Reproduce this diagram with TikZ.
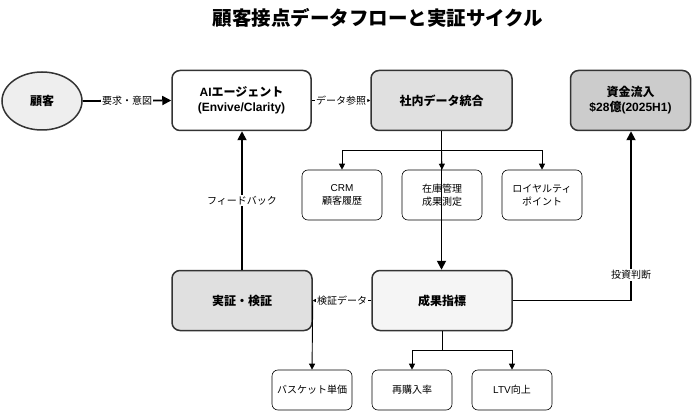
\documentclass[tikz,border=0pt]{standalone}
\usepackage{fontspec}
\setmainfont{Noto Sans CJK JP}
\newfontfamily\lat{Liberation Sans}
\usetikzlibrary{arrows.meta,shapes.geometric}
\definecolor{bordc}{HTML}{333333}
\definecolor{fillA}{HTML}{EEEEEE}
\definecolor{fillB}{HTML}{E0E0E0}
\definecolor{fillC}{HTML}{CCCCCC}
\definecolor{fillD}{HTML}{F5F5F5}
\begin{document}
\begin{tikzpicture}[x=1pt,y=-1pt,
  mainbox/.style={draw=bordc,line width=1.5pt,rounded corners=8pt,minimum width=139pt,minimum height=60pt,align=center,font=\fontsize{12}{15}\selectfont\bfseries,inner sep=2pt},
  smallbox/.style={draw=black,line width=0.6pt,rounded corners=6pt,minimum width=80pt,minimum height=50pt,align=center,font=\fontsize{10}{12.5}\selectfont,inner sep=1pt},
  leafbox/.style={smallbox,minimum height=40pt},
  bigarrow/.style={draw=black,line width=1.8pt,-{Triangle[length=9pt,width=9pt]}},
  thinarrow/.style={draw=black,line width=0.9pt,-{Triangle[length=6pt,width=6pt]}},
  dataarrow/.style={draw=black,line width=0.9pt,-{Triangle[length=3pt,width=3pt]}},
  elab/.style={fill=white,inner sep=1pt,font=\fontsize{10}{12}\selectfont}
]
\useasboundingbox[fill=white] (0,0) rectangle (692,411);

\node[font=\fontsize{19.5}{23}\selectfont\bfseries] (title) at (378,18) {顧客接点データフローと実証サイクル};

\node[ellipse,draw=bordc,line width=1.5pt,fill=fillA,minimum width=80pt,minimum height=58pt,font=\fontsize{12}{14}\selectfont\bfseries] (cust) at (42,101) {顧客};
\node[mainbox,fill=white] (ai) at (241.5,100.5) {{\lat\bfseries AI}エージェント\\{\lat\bfseries (Envive/Clarity)}};
\node[mainbox,fill=fillB,minimum width=141pt] (int) at (441.5,100.5) {社内データ統合};
\node[mainbox,fill=fillC,minimum width=120pt] (fund) at (630.5,100.5) {資金流入\\{\lat\bfseries \$28}億{\lat\bfseries (2025H1)}};

\node[smallbox] (crm) at (342,195) {{\lat CRM}\\顧客履歴};
\node[smallbox] (inv) at (442,195) {在庫管理\\成果測定};
\node[smallbox] (loy) at (542,195) {ロイヤルティ\\ポイント};

\node[mainbox,fill=fillB,minimum width=140pt] (ver) at (242,300.5) {実証・検証};
\node[mainbox,fill=fillD,minimum width=140pt] (kpi) at (442,300.5) {成果指標};

\node[leafbox] (bask) at (312,390) {バスケット単価};
\node[leafbox] (rep) at (412,390) {再購入率};
\node[leafbox] (ltv) at (512,390) {{\lat LTV}向上};

% edges
\draw[bigarrow] (cust.east) -- node[elab]{要求・意図} (ai.west);
\draw[dataarrow] (ai.east) -- node[elab]{データ参照} (int.west);

\coordinate (br1) at (441.5,150);
\draw[thinarrow] (int.south) -- (br1) -| (crm.north);
\draw[thinarrow] (br1) -| (loy.north);
\draw[thinarrow] (br1) -- (inv.north);
\draw[bigarrow] (int.south) -- (kpi.north -| int.south);

\coordinate (fundcorner) at (631,300.5);
\draw[bigarrow] (kpi.east) -- (fundcorner) -- node[elab,pos=0.15]{投資判断} (fund.south -| fundcorner);

\draw[bigarrow] (ver.north) -- node[elab]{フィードバック} (ai.south -| ver.north);

\draw[dataarrow] (kpi.west) -- node[elab]{検証データ} (ver.east);
\draw[thinarrow] (ver.east) -- (bask.north);

\coordinate (br2) at (442,350);
\draw[thinarrow] (kpi.south) -- (br2) -| (rep.north);
\draw[thinarrow] (br2) -| (ltv.north);
\end{tikzpicture}
\end{document}
